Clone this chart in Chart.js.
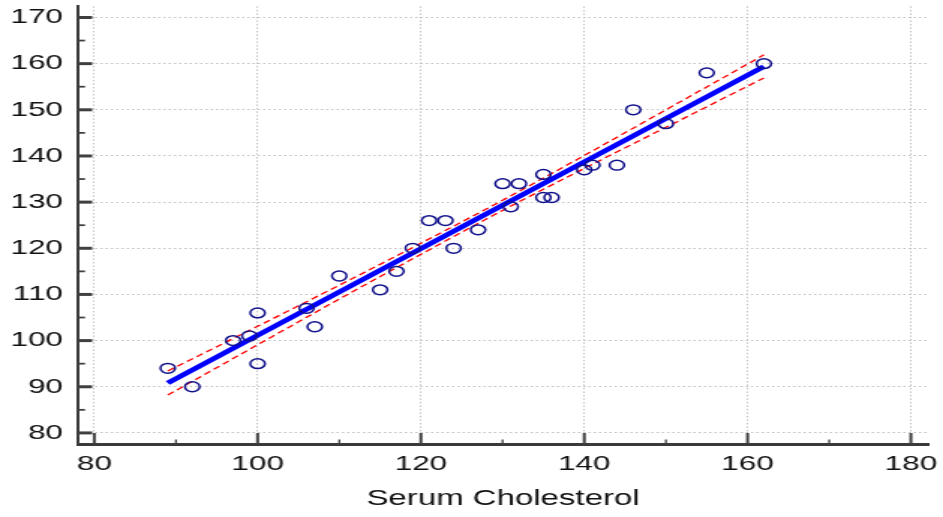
<!DOCTYPE html>
<html>
<head>
<meta charset="utf-8">
<script src="https://cdn.jsdelivr.net/npm/chart.js@4"></script>
<style>
    html, body { margin: 0; padding: 0; background: #fff; }
</style>
</head>
<body>
<canvas id="chart" width="629" height="517" style="display:block;width:943px;height:517px"></canvas>
<script>
// Data
const cholesterol = [89, 92, 97, 99, 100, 100, 106, 107, 110, 115, 117, 119, 121, 123, 124, 127,
    130, 131, 132, 135, 135, 136, 140, 141, 144, 146, 150, 155, 162];
const response = [94, 90, 100, 101, 106, 95, 107, 103, 114, 111, 115, 120, 126, 126, 120, 124,
    134, 129, 134, 136, 131, 131, 137, 138, 138, 150, 147, 158, 160];

// Fitted line end points
const fitX = [89, 162];
const fitY = [90.8, 159.4];

// Confidence band (dashed red)
const bandX = [89, 100, 110, 120, 130, 140, 150, 162];
const bandUpper = [93.4, 103.1, 112.0, 121.1, 130.4, 140.1, 150.0, 161.9];
const bandLower = [88.2, 99.1, 109.0, 118.7, 128.2, 137.3, 146.2, 156.9];

const xTicks = [80, 100, 120, 140, 160, 180];
const xMinor = [90, 110, 130, 150, 170];
const yTicks = [80, 90, 100, 110, 120, 130, 140, 150, 160, 170];
const yMinor = [85, 95, 105, 115, 125, 135, 145, 155, 165];

const toPoints = (xs, ys) => xs.map((x, i) => ({ x: x, y: ys[i] }));

// inward tick marks, drawn through the scales
const innerTicks = {
    id: 'innerTicks',
    afterDraw(chart) {
        const ctx = chart.ctx;
        const xs = chart.scales.x, ys = chart.scales.y;
        const left = chart.chartArea.left, bottom = chart.chartArea.bottom;
        ctx.save();
        ctx.strokeStyle = '#404040';
        ctx.lineCap = 'butt';
        const ytick = (v, len, w) => {
            const p = ys.getPixelForValue(v);
            ctx.lineWidth = w;
            ctx.beginPath(); ctx.moveTo(left, p); ctx.lineTo(left + len, p); ctx.stroke();
        };
        const xtick = (v, len, w) => {
            const p = xs.getPixelForValue(v);
            ctx.lineWidth = w;
            ctx.beginPath(); ctx.moveTo(p, bottom); ctx.lineTo(p, bottom - len); ctx.stroke();
        };
        yTicks.forEach(v => ytick(v, 9.5, 3));
        yMinor.forEach(v => ytick(v, 4.7, 1.8));
        xTicks.forEach(v => xtick(v, 11, 2));
        xMinor.forEach(v => xtick(v, 4.5, 1.3));
        ctx.restore();
    }
};

const tickFont = { family: "'Liberation Sans', Arial, sans-serif", size: 21 };

new Chart(document.getElementById('chart').getContext('2d'), {
    type: 'scatter',
    data: {
        datasets: [
            {
                label: 'Observations',
                data: toPoints(cholesterol, response),
                pointStyle: 'circle',
                pointRadius: 4.9,
                pointBorderWidth: 1.5,
                borderColor: '#10108a',
                backgroundColor: 'rgba(0,0,0,0)',
                order: 0
            },
            {
                label: 'Fit',
                data: toPoints(fitX, fitY),
                showLine: true,
                borderColor: '#0000ff',
                borderWidth: 4.5,
                pointRadius: 0,
                order: 1
            },
            {
                label: 'Upper',
                data: toPoints(bandX, bandUpper),
                showLine: true,
                borderColor: '#ff0000',
                borderWidth: 1.3,
                borderDash: [5, 3],
                cubicInterpolationMode: 'monotone',
                pointRadius: 0,
                order: 2
            },
            {
                label: 'Lower',
                data: toPoints(bandX, bandLower),
                showLine: true,
                borderColor: '#ff0000',
                borderWidth: 1.3,
                borderDash: [5, 3],
                cubicInterpolationMode: 'monotone',
                pointRadius: 0,
                order: 3
            }
        ]
    },
    options: {
        responsive: false,
        animation: false,
        layout: { padding: { left: 0, right: 10, top: 5, bottom: 0 } },
        plugins: { legend: { display: false }, tooltip: { enabled: false } },
        scales: {
            x: {
                type: 'linear',
                min: 78,
                max: 182.1,
                afterBuildTicks: s => { s.ticks = xTicks.map(v => ({ value: v })); },
                afterFit: s => { s.height = 73; s.paddingLeft = 0; s.paddingRight = 0; },
                grid: { color: '#c2c2c2', lineWidth: 1, drawTicks: false },
                border: { display: true, color: '#3a3a3a', width: 3, dash: [1.5, 2] },
                ticks: { font: tickFont, color: '#111', padding: 8, maxRotation: 0 },
                title: {
                    display: true,
                    text: 'Serum Cholesterol',
                    font: { family: "'Liberation Sans', Arial, sans-serif", size: 22 },
                    color: '#111',
                    padding: { top: 0, bottom: 5 }
                }
            },
            y: {
                type: 'linear',
                min: 77.6,
                max: 172.4,
                afterBuildTicks: s => { s.ticks = yTicks.map(v => ({ value: v })); },
                afterFit: s => { s.width = 52; s.paddingTop = 0; s.paddingBottom = 0; },
                grid: { color: '#c2c2c2', lineWidth: 1, drawTicks: false },
                border: { display: true, color: '#3a3a3a', width: 2, dash: [1.5, 2] },
                ticks: { font: tickFont, color: '#111', padding: 10 }
            }
        }
    },
    plugins: [innerTicks]
});
</script>
</body>
</html>
